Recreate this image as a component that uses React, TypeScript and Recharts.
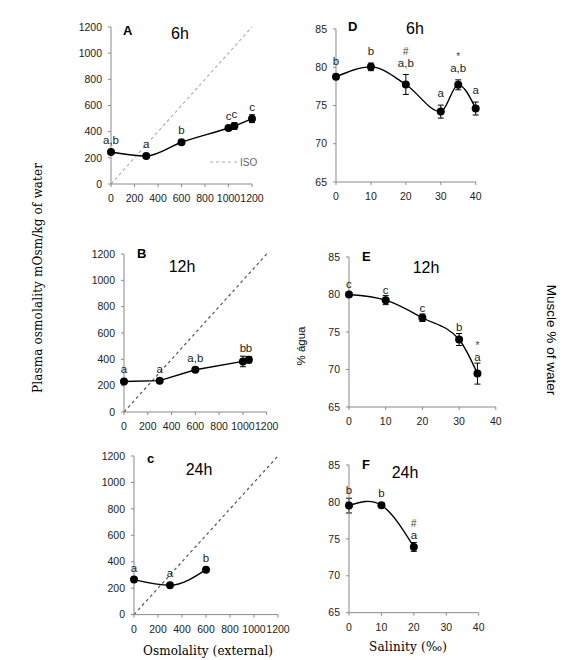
import { LineChart, Line, XAxis, YAxis, ErrorBar, ReferenceLine } from "recharts";

// plasma osmolality panels (A, B, C): x = external osmolality
const osmTicks = [0, 200, 400, 600, 800, 1000, 1200];
const plasmaTicks = [0, 200, 400, 600, 800, 1000, 1200];

const osmA = [0, 300, 600, 1000, 1050, 1200];
const plasmaA = [245, 214, 319, 428, 443, 499];
const plasmaAErr = [8, 8, 10, 14, 25, 30];
const lettersA = ["a,b", "a", "b", "c", "c", "c"];

const osmB = [0, 300, 600, 1000, 1050];
const plasmaB = [232, 238, 321, 384, 397];
const plasmaBErr = [8, 8, 12, 40, 25];
const lettersB = ["a", "a", "a,b", "b", "b"];

const osmC = [0, 300, 600];
const plasmaC = [265, 222, 340];
const plasmaCErr = [8, 8, 8];
const lettersC = ["a", "a", "b"];

// muscle water panels (D, E, F): x = salinity
const salTicks = [0, 10, 20, 30, 40];
const waterTicks = [65, 70, 75, 80, 85];

const salD = [0, 10, 20, 30, 35, 40];
const waterD = [78.75, 80.05, 77.75, 74.2, 77.7, 74.6];
const waterDErr = [0.3, 0.5, 1.3, 0.85, 0.65, 0.85];
const lettersD = ["b", "b", "a,b", "a", "a,b", "a"];
const marksD = ["", "", "#", "", "*", ""];

const salE = [0, 10, 20, 30, 35];
const waterE = [80.0, 79.25, 76.9, 74.0, 69.45];
const waterEErr = [0.2, 0.6, 0.5, 0.8, 1.4];
const lettersE = ["c", "c", "c", "b", "a"];
const marksE = ["", "", "", "", "*"];

const salF = [0, 10, 20];
const waterF = [79.5, 79.55, 73.9];
const waterFErr = [1.0, 0.3, 0.6];
const lettersF = ["b", "b", "a"];
const marksF = ["", "", "#"];

const SANS = "'Liberation Sans', Arial, sans-serif";
const SERIF = "'DejaVu Serif', Cambria, serif";
const AXIS = "#8a8a8a";

type Box = { left: number; top: number; right: number; bottom: number };

interface PanelProps {
  box: Box;
  xs: number[];
  ys: number[];
  errs: number[];
  letters: string[];
  marks?: string[];
  xDomain: [number, number];
  xTicks: number[];
  yDomain: [number, number];
  yTicks: number[];
  curve: "monotone" | "linear" | "natural";
  gap: number;
  iso?: string;
}

const Panel = ({
  box,
  xs,
  ys,
  errs,
  letters,
  marks,
  xDomain,
  xTicks,
  yDomain,
  yTicks,
  curve,
  gap,
  iso,
}: PanelProps) => {
  const padL = 50;
  const padT = 20;
  const padB = 30;
  const padR = 20;
  const w = box.right - box.left;
  const h = box.bottom - box.top;
  const pxPerUnit = h / (yDomain[1] - yDomain[0]);
  const data = xs.map((x, i) => ({ x, y: ys[i], err: errs[i] }));

  // dot plus the significance letters sitting above its error bar
  const renderDot = (props: any) => {
    const { cx, cy, index } = props;
    const top = Math.min(cy - errs[index] * pxPerUnit, cy - 4) - gap;
    const mark = marks ? marks[index] : "";
    return (
      <g key={`dot-${index}`}>
        <circle cx={cx} cy={cy} r={4} fill="#000" />
        <text
          x={cx}
          y={top}
          textAnchor="middle"
          fontSize={11.5}
          fontFamily={SANS}
          fill="#222"
        >
          {letters[index]}
        </text>
        {mark && (
          <text
            x={cx}
            y={top - 12}
            textAnchor="middle"
            fontSize={10}
            fontFamily={SANS}
            fill="#444"
          >
            {mark}
          </text>
        )}
      </g>
    );
  };

  const tick = { fontSize: 10.5, fontFamily: SANS, fill: "#222" };

  return (
    <div
      style={{
        position: "absolute",
        left: box.left - padL,
        top: box.top - padT,
      }}
    >
      <LineChart
        width={w + padL + padR}
        height={h + padT + padB}
        data={data}
        margin={{ top: padT, right: padR, left: 0, bottom: 0 }}
      >
        <XAxis
          dataKey="x"
          type="number"
          domain={xDomain}
          ticks={xTicks}
          interval={0}
          height={padB}
          tick={tick}
          stroke={AXIS}
          tickSize={3}
          tickMargin={8}
        />
        <YAxis
          type="number"
          domain={yDomain}
          ticks={yTicks}
          interval={0}
          width={padL}
          tick={tick}
          stroke={AXIS}
          tickSize={3}
          tickMargin={6}
        />
        {iso && (
          <ReferenceLine
            segment={[
              { x: 0, y: 0 },
              { x: 1200, y: 1200 },
            ]}
            stroke={iso}
            strokeWidth={1.2}
            strokeDasharray="3 3"
          />
        )}
        <Line
          type={curve}
          dataKey="y"
          stroke="#000"
          strokeWidth={1.4}
          dot={renderDot}
          activeDot={false}
          isAnimationActive={false}
        >
          <ErrorBar
            dataKey="err"
            direction="y"
            width={3}
            stroke="#000"
            strokeWidth={1}
          />
        </Line>
      </LineChart>
    </div>
  );
};

const Overlay = () => (
  <svg
    width={574}
    height={660}
    style={{ position: "absolute", left: 0, top: 0, pointerEvents: "none" }}
  >
    {/* panel tags and times */}
    <g fontFamily={SANS} fill="#000">
      <text x={123} y={35} fontSize={13} fontWeight="bold">A</text>
      <text x={180} y={39} fontSize={16} textAnchor="middle">6h</text>
      <text x={348} y={31} fontSize={13} fontWeight="bold">D</text>
      <text x={415} y={34} fontSize={16} textAnchor="middle">6h</text>
      <text x={137} y={258} fontSize={13} fontWeight="bold">B</text>
      <text x={182} y={272} fontSize={16} textAnchor="middle">12h</text>
      <text x={362} y={261} fontSize={13} fontWeight="bold">E</text>
      <text x={426} y={273} fontSize={16} textAnchor="middle">12h</text>
      <text x={147} y={463} fontSize={13} fontWeight="bold">c</text>
      <text x={199} y={475} fontSize={16} textAnchor="middle">24h</text>
      <text x={362} y={469} fontSize={13} fontWeight="bold">F</text>
      <text x={405} y={478} fontSize={16} textAnchor="middle">24h</text>
    </g>
    {/* ISO legend */}
    <line x1={210} y1={162} x2={237} y2={162} stroke="#aaa" strokeWidth={1.2} strokeDasharray="3 3" />
    <text x={240} y={166} fontSize={10} fontFamily={SANS} fill="#666">ISO</text>
    {/* axis titles */}
    <text
      transform="translate(42,278) rotate(-90)"
      textAnchor="middle"
      fontSize={12}
      fontFamily={SERIF}
      fill="#000"
      textLength={230}
    >
      Plasma osmolality mOsm/kg of water
    </text>
    <text
      transform="translate(547,340) rotate(90)"
      textAnchor="middle"
      fontSize={13.5}
      fontFamily={SANS}
      fill="#000"
    >
      Muscle % of water
    </text>
    <text
      transform="translate(305,346) rotate(-90)"
      textAnchor="middle"
      fontSize={11.5}
      fontFamily={SANS}
      fill="#000"
    >
      % água
    </text>
    <text x={208} y={655} textAnchor="middle" fontSize={12} fontFamily={SERIF} fill="#000" textLength={130}>
      Osmolality (external)
    </text>
    <text x={408} y={651} textAnchor="middle" fontSize={12} fontFamily={SERIF} fill="#000" textLength={78}>
      Salinity (‰)
    </text>
  </svg>
);

const App = () => {
  return (
    <div style={{ position: "relative", width: 574, height: 660, background: "#fff", overflow: "hidden" }}>
      <style>{"body{margin:0}"}</style>
      <Panel
        box={{ left: 110.7, top: 27, right: 251.7, bottom: 184 }}
        xs={osmA}
        ys={plasmaA}
        errs={plasmaAErr}
        letters={lettersA}
        xDomain={[0, 1200]}
        xTicks={osmTicks}
        yDomain={[0, 1200]}
        yTicks={plasmaTicks}
        curve="monotone"
        gap={4}
        iso="#b0b0b0"
      />
      <Panel
        box={{ left: 336, top: 29, right: 475.7, bottom: 182 }}
        xs={salD}
        ys={waterD}
        errs={waterDErr}
        letters={lettersD}
        marks={marksD}
        xDomain={[0, 40]}
        xTicks={salTicks}
        yDomain={[65, 85]}
        yTicks={waterTicks}
        curve="monotone"
        gap={8}
      />
      <Panel
        box={{ left: 124, top: 254.3, right: 266.7, bottom: 412.3 }}
        xs={osmB}
        ys={plasmaB}
        errs={plasmaBErr}
        letters={lettersB}
        xDomain={[0, 1200]}
        xTicks={osmTicks}
        yDomain={[0, 1200]}
        yTicks={plasmaTicks}
        curve="linear"
        gap={4}
        iso="#555"
      />
      <Panel
        box={{ left: 348.7, top: 256.7, right: 495.5, bottom: 406.7 }}
        xs={salE}
        ys={waterE}
        errs={waterEErr}
        letters={lettersE}
        marks={marksE}
        xDomain={[0, 40]}
        xTicks={salTicks}
        yDomain={[65, 85]}
        yTicks={waterTicks}
        curve="monotone"
        gap={2}
      />
      <Panel
        box={{ left: 134.3, top: 455.7, right: 278.3, bottom: 614.3 }}
        xs={osmC}
        ys={plasmaC}
        errs={plasmaCErr}
        letters={lettersC}
        xDomain={[0, 1200]}
        xTicks={osmTicks}
        yDomain={[0, 1200]}
        yTicks={plasmaTicks}
        curve="monotone"
        gap={4}
        iso="#555"
      />
      <Panel
        box={{ left: 349.3, top: 465, right: 479, bottom: 612.7 }}
        xs={salF}
        ys={waterF}
        errs={waterFErr}
        letters={lettersF}
        marks={marksF}
        xDomain={[0, 40]}
        xTicks={salTicks}
        yDomain={[65, 85]}
        yTicks={waterTicks}
        curve="natural"
        gap={4}
      />
      <Overlay />
    </div>
  );
};

export default App;
